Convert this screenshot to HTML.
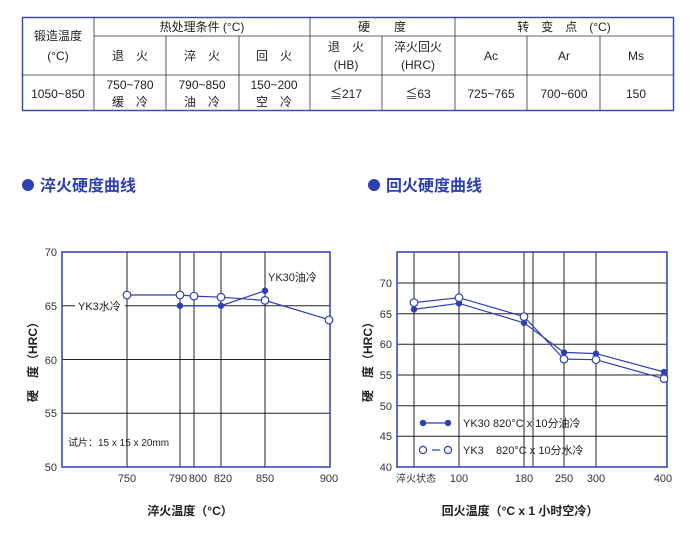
<!DOCTYPE html><html><head><meta charset="utf-8"><style>
body{margin:0;background:#fff;width:695px;height:535px;overflow:hidden}
svg{font-family:"Liberation Sans","Noto Sans CJK SC",sans-serif}
</style></head><body>
<svg width="695" height="535" viewBox="0 0 695 535" xmlns="http://www.w3.org/2000/svg">
<g font-size="12" fill="#222" text-anchor="middle">
<rect x="22.5" y="17.5" width="651" height="93" fill="none" stroke="#3a4fb0" stroke-width="1.5"/>
<g stroke="#333" stroke-width="0.8">
<line x1="94" y1="17" x2="94" y2="110"/><line x1="310" y1="17" x2="310" y2="110"/><line x1="455" y1="17" x2="455" y2="110"/>
<line x1="166" y1="36" x2="166" y2="110"/><line x1="239" y1="36" x2="239" y2="110"/><line x1="382" y1="36" x2="382" y2="110"/>
<line x1="527" y1="36" x2="527" y2="110"/><line x1="600" y1="36" x2="600" y2="110"/>
<line x1="94" y1="36" x2="673" y2="36"/><line x1="22" y1="75" x2="673" y2="75"/>
</g>
<text x="58" y="40">锻造温度</text><text x="58" y="60">(°C)</text>
<text x="202" y="31">热处理条件 (°C)</text><text x="382" y="31">硬　　度</text><text x="564" y="31">转　变　点　(°C)</text>
<text x="130" y="60">退　火</text><text x="202" y="60">淬　火</text><text x="274" y="60">回　火</text>
<text x="346" y="51">退　火</text><text x="346" y="69">(HB)</text><text x="418" y="51">淬火回火</text><text x="418" y="69">(HRC)</text>
<text x="491" y="60">Ac</text><text x="564" y="60">Ar</text><text x="636" y="60">Ms</text>
<text x="58" y="98">1050~850</text>
<text x="130" y="89">750~780</text><text x="130" y="106">缓　冷</text>
<text x="202" y="89">790~850</text><text x="202" y="106">油　冷</text>
<text x="274" y="89">150~200</text><text x="274" y="106">空　冷</text>
<text x="346" y="98">≦217</text><text x="418" y="98">≦63</text>
<text x="491" y="98">725~765</text><text x="564" y="98">700~600</text><text x="636" y="98">150</text>
</g>
<circle cx="28" cy="185" r="6" fill="#2e3fb5"/>
<text x="40" y="191" font-size="16" font-weight="bold" fill="#2e3fb5">淬火硬度曲线</text>
<circle cx="374" cy="185" r="6" fill="#2e3fb5"/>
<text x="386" y="191" font-size="16" font-weight="bold" fill="#2e3fb5">回火硬度曲线</text>

<!-- Chart 1 -->
<g stroke="#222" stroke-width="1">
<line x1="62" y1="305.75" x2="330" y2="305.75"/><line x1="62" y1="359.5" x2="330" y2="359.5"/><line x1="62" y1="413.25" x2="330" y2="413.25"/>
<line x1="127" y1="252" x2="127" y2="467"/><line x1="180" y1="252" x2="180" y2="467"/><line x1="194" y1="252" x2="194" y2="467"/><line x1="221" y1="252" x2="221" y2="467"/><line x1="265" y1="252" x2="265" y2="467"/>
</g>
<rect x="75" y="298" width="50" height="14" fill="#fff"/>
<rect x="62" y="252" width="268" height="215" fill="none" stroke="#2e3fb5" stroke-width="1.5"/>
<g font-size="11" fill="#333" text-anchor="end">
<text x="57" y="256">70</text><text x="57" y="310">65</text><text x="57" y="364">60</text><text x="57" y="417">55</text><text x="57" y="471">50</text></g>
<g font-size="11" fill="#333" text-anchor="middle">
<text x="127" y="482">750</text><text x="178" y="482">790</text><text x="198" y="482">800</text><text x="223" y="482">820</text><text x="265" y="482">850</text><text x="329" y="482">900</text></g>
<text x="78" y="310" font-size="11" fill="#222">YK3水冷</text>
<text x="268" y="281" font-size="11" fill="#222">YK30油冷</text>
<text x="68" y="446" font-size="10" fill="#222">试片：15 x 15 x 20mm</text>
<text x="190" y="515" font-size="12" font-weight="bold" text-anchor="middle" fill="#222">淬火温度（°C）</text>
<text transform="translate(37,359) rotate(-90)" font-size="12" font-weight="bold" text-anchor="middle" fill="#222">硬　度（HRC）</text>
<polyline points="180,305.75 221,305.75 265,290.7" fill="none" stroke="#2e3fb5" stroke-width="1.2"/>
<polyline points="127,295 180,295 194,296.1 221,297.2 265,300.4 329,319.7" fill="none" stroke="#2e3fb5" stroke-width="1.2"/>
<g fill="#2e3fb5"><circle cx="180" cy="305.75" r="3.2"/><circle cx="221" cy="305.75" r="3.2"/><circle cx="265" cy="290.7" r="3.2"/></g>
<g fill="#fff" stroke="#2e3fb5" stroke-width="1.2"><circle cx="127" cy="295" r="3.8"/><circle cx="180" cy="295" r="3.8"/><circle cx="194" cy="296.1" r="3.8"/><circle cx="221" cy="297.2" r="3.8"/><circle cx="265" cy="300.4" r="3.8"/><circle cx="329" cy="320" r="3.8"/></g>

<!-- Chart 2 -->
<g stroke="#222" stroke-width="1">
<line x1="397" y1="283" x2="667" y2="283"/><line x1="397" y1="313.7" x2="667" y2="313.7"/><line x1="397" y1="344.3" x2="667" y2="344.3"/><line x1="397" y1="375" x2="667" y2="375"/><line x1="397" y1="405.7" x2="667" y2="405.7"/><line x1="397" y1="436.3" x2="667" y2="436.3"/>
<line x1="414" y1="252" x2="414" y2="467"/><line x1="459" y1="252" x2="459" y2="467"/><line x1="524" y1="252" x2="524" y2="467"/><line x1="533" y1="252" x2="533" y2="467"/><line x1="564" y1="252" x2="564" y2="467"/><line x1="596" y1="252" x2="596" y2="467"/>
</g>
<rect x="397" y="252" width="270" height="215" fill="none" stroke="#2e3fb5" stroke-width="1.5"/>
<g font-size="11" fill="#333" text-anchor="end">
<text x="392" y="287">70</text><text x="392" y="318">65</text><text x="392" y="348">60</text><text x="392" y="379">55</text><text x="392" y="410">50</text><text x="392" y="440">45</text><text x="392" y="471">40</text></g>
<g font-size="11" fill="#333" text-anchor="middle">
<text x="416" y="482" font-size="10">淬火状态</text><text x="459" y="482">100</text><text x="524" y="482">180</text><text x="564" y="482">250</text><text x="596" y="482">300</text><text x="663" y="482">400</text></g>
<text x="520" y="515" font-size="12" font-weight="bold" text-anchor="middle" fill="#222">回火温度（°C x 1 小时空冷）</text>
<text transform="translate(372,359) rotate(-90)" font-size="12" font-weight="bold" text-anchor="middle" fill="#222">硬　度（HRC）</text>
<polyline points="414,309.4 459,303.3 524,322.9 564,352.4 596,353.6 664,372" fill="none" stroke="#2e3fb5" stroke-width="1.2"/>
<polyline points="414,302.6 459,297.7 524,316.6 564,359.1 596,359.7 664,378.7" fill="none" stroke="#2e3fb5" stroke-width="1.2"/>
<g fill="#2e3fb5"><circle cx="414" cy="309.4" r="3.2"/><circle cx="459" cy="303.3" r="3.2"/><circle cx="524" cy="322.9" r="3.2"/><circle cx="564" cy="352.4" r="3.2"/><circle cx="596" cy="353.6" r="3.2"/><circle cx="664" cy="372" r="3.2"/></g>
<g fill="#fff" stroke="#2e3fb5" stroke-width="1.2"><circle cx="414" cy="302.6" r="3.8"/><circle cx="459" cy="297.7" r="3.8"/><circle cx="524" cy="316.6" r="3.8"/><circle cx="564" cy="359.1" r="3.8"/><circle cx="596" cy="359.7" r="3.8"/><circle cx="664" cy="378.7" r="3.8"/></g>
<line x1="423" y1="423" x2="448" y2="423" stroke="#2e3fb5" stroke-width="1.2"/>
<circle cx="423" cy="423" r="3.2" fill="#2e3fb5"/><circle cx="448" cy="423" r="3.2" fill="#2e3fb5"/>
<line x1="432" y1="450" x2="440" y2="450" stroke="#2e3fb5" stroke-width="1.2"/>
<circle cx="423" cy="450" r="3.6" fill="#fff" stroke="#2e3fb5" stroke-width="1.2"/><circle cx="448" cy="450" r="3.6" fill="#fff" stroke="#2e3fb5" stroke-width="1.2"/>
<text x="463" y="427" font-size="11" fill="#222">YK30  820°C x 10分油冷</text>
<text x="463" y="454" font-size="11" fill="#222" xml:space="preserve">YK3    820°C x 10分水冷</text>
</svg>
</body></html>
